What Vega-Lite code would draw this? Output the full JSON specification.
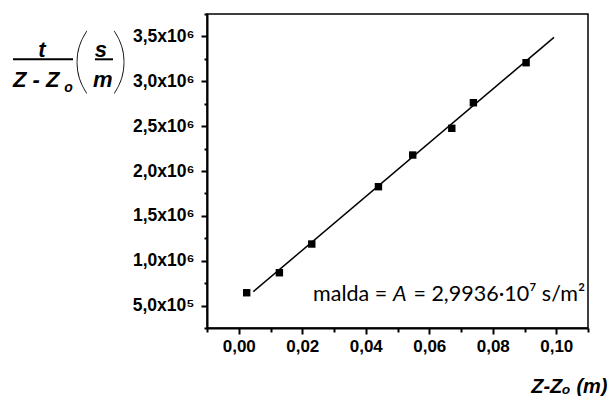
{
  "$schema": "https://vega.github.io/schema/vega-lite/v6.json",
  "width": 381,
  "height": 314,
  "autosize": {"type": "none"},
  "padding": {"left": 207, "top": 14, "right": 23, "bottom": 68},
  "background": "white",
  "config": {
    "view": {"stroke": "black", "strokeWidth": 1.5},
    "font": "Liberation Sans",
    "locale": {"number": {"decimal": ",", "thousands": ".", "grouping": [3], "currency": ["", ""]}}
  },
  "datasets": {
    "pts": [
      {"z": 0.0025, "r": 643000},
      {"z": 0.0128, "r": 866000},
      {"z": 0.0230, "r": 1186000},
      {"z": 0.0440, "r": 1825000},
      {"z": 0.0548, "r": 2178000},
      {"z": 0.0671, "r": 2476000},
      {"z": 0.0739, "r": 2761000},
      {"z": 0.0905, "r": 3207000}
    ],
    "fit": [
      {"z": 0.0046, "r": 655200},
      {"z": 0.0993, "r": 3490200}
    ]
  },
  "resolve": {"axis": {"x": "independent", "y": "independent"}},
  "layer": [
    {
      "data": {"name": "fit"},
      "mark": {"type": "line", "color": "black", "strokeWidth": 1.5},
      "encoding": {
        "x": {
          "field": "z", "type": "quantitative",
          "scale": {"domain": [-0.01, 0.11], "nice": false, "zero": false},
          "axis": {
            "orient": "bottom",
            "values": [0, 0.02, 0.04, 0.06, 0.08, 0.1],
            "format": ".2f",
            "tickSize": 6,
            "tickWidth": 2, "tickColor": "black",
            "domainWidth": 2, "domainColor": "black",
            "grid": false,
            "labelFont": "Liberation Sans", "labelFontWeight": "bold", "labelFontSize": 17,
            "labelColor": "black", "labelPadding": 4, "labelFlush": false, "labelOverlap": false,
            "title": "Z-Zₒ (m)",
            "titleFont": "Liberation Sans", "titleFontWeight": "bold", "titleFontStyle": "italic",
            "titleFontSize": 20, "titleColor": "black",
            "titleAnchor": "end", "titleAlign": "right", "titleBaseline": "alphabetic",
            "titleX": 400, "titleY": 64
          }
        },
        "y": {
          "field": "r", "type": "quantitative",
          "scale": {"domain": [250000, 3750000], "nice": false, "zero": false},
          "axis": {
            "orient": "left",
            "values": [500000, 1000000, 1500000, 2000000, 2500000, 3000000, 3500000],
            "labelExpr": "datum.value < 1000000 ? '5,0x10⁵' : format(datum.value/1000000, '.1f') + 'x10⁶'",
            "tickSize": 6,
            "tickWidth": 2, "tickColor": "black",
            "domainWidth": 2, "domainColor": "black",
            "grid": false,
            "labelFont": "Liberation Sans", "labelFontWeight": "bold", "labelFontSize": 17.5,
            "labelColor": "black", "labelPadding": 7, "labelFlush": false, "labelOverlap": false,
            "title": null
          }
        }
      }
    },
    {
      "data": {"name": "pts"},
      "mark": {"type": "point", "shape": "square", "filled": true, "color": "black", "opacity": 1, "size": 55},
      "encoding": {
        "x": {"field": "z", "type": "quantitative",
          "axis": {"orient": "bottom", "values": [-0.01, 0.01, 0.03, 0.05, 0.07, 0.09, 0.11], "labels": false, "domain": false, "grid": false, "tickSize": 4, "tickWidth": 2, "tickColor": "black", "title": null}},
        "y": {"field": "r", "type": "quantitative",
          "axis": {"orient": "left", "values": [250000, 750000, 1250000, 1750000, 2250000, 2750000, 3250000, 3750000], "labels": false, "domain": false, "grid": false, "tickSize": 3, "tickWidth": 2, "tickColor": "black", "title": null}}
      }
    },
    {
      "data": {"values": [{}]},
      "mark": {"type": "text", "text": "malda =", "font": "Lato", "fontSize": 21.5, "align": "left", "baseline": "alphabetic", "color": "black"},
      "encoding": {
        "x": {"datum": 0.0234, "type": "quantitative", "axis": null},
        "y": {"datum": 551000, "type": "quantitative", "axis": null}
      }
    },
    {
      "data": {"values": [{}]},
      "mark": {"type": "text", "text": "A", "font": "Lato", "fontSize": 21.5, "fontStyle": "italic", "align": "left", "baseline": "alphabetic", "color": "black"},
      "encoding": {
        "x": {"datum": 0.0486, "type": "quantitative", "axis": null},
        "y": {"datum": 551000, "type": "quantitative", "axis": null}
      }
    },
    {
      "data": {"values": [{}]},
      "mark": {"type": "text", "text": "= 2,9936·10⁷ s/m²", "font": "Lato", "fontSize": 21.5, "align": "right", "baseline": "alphabetic", "color": "black"},
      "encoding": {
        "x": {"datum": 0.1091, "type": "quantitative", "axis": null},
        "y": {"datum": 551000, "type": "quantitative", "axis": null}
      }
    },
    {
      "data": {"values": [{}]},
      "mark": {"type": "text", "text": "t", "font": "Liberation Sans", "fontSize": 22, "fontWeight": "bold", "fontStyle": "italic", "align": "center", "baseline": "alphabetic", "color": "black"},
      "encoding": {
        "x": {"datum": -0.0620, "type": "quantitative", "axis": null},
        "y": {"datum": 3270700, "type": "quantitative", "axis": null}
      }
    },
    {
      "data": {"values": [{}]},
      "mark": {"type": "rule", "color": "black", "strokeWidth": 2},
      "encoding": {
        "x": {"datum": -0.0711, "type": "quantitative", "axis": null},
        "x2": {"datum": -0.0522},
        "y": {"datum": 3245000, "type": "quantitative", "axis": null}
      }
    },
    {
      "data": {"values": [{}]},
      "mark": {"type": "text", "text": "Z - Z", "font": "Liberation Sans", "fontSize": 22, "fontWeight": "bold", "fontStyle": "italic", "align": "left", "baseline": "alphabetic", "color": "black"},
      "encoding": {
        "x": {"datum": -0.0711, "type": "quantitative", "axis": null},
        "y": {"datum": 2936300, "type": "quantitative", "axis": null}
      }
    },
    {
      "data": {"values": [{}]},
      "mark": {"type": "text", "text": "o", "font": "Liberation Sans", "fontSize": 14, "fontWeight": "bold", "fontStyle": "italic", "align": "left", "baseline": "alphabetic", "color": "black"},
      "encoding": {
        "x": {"datum": -0.0550, "type": "quantitative", "axis": null},
        "y": {"datum": 2880600, "type": "quantitative", "axis": null}
      }
    },
    {
      "data": {"values": [{}]},
      "mark": {"type": "text", "text": "(", "font": "Lato", "fontSize": 72, "fontWeight": 200, "align": "center", "baseline": "middle", "color": "black"},
      "encoding": {
        "x": {"datum": -0.0497, "type": "quantitative", "axis": null},
        "y": {"datum": 3200000, "type": "quantitative", "axis": null}
      }
    },
    {
      "data": {"values": [{}]},
      "mark": {"type": "text", "text": "s", "font": "Liberation Sans", "fontSize": 22, "fontWeight": "bold", "fontStyle": "italic", "align": "center", "baseline": "alphabetic", "color": "black"},
      "encoding": {
        "x": {"datum": -0.0434, "type": "quantitative", "axis": null},
        "y": {"datum": 3270700, "type": "quantitative", "axis": null}
      }
    },
    {
      "data": {"values": [{}]},
      "mark": {"type": "rule", "color": "black", "strokeWidth": 2},
      "encoding": {
        "x": {"datum": -0.0453, "type": "quantitative", "axis": null},
        "x2": {"datum": -0.0396},
        "y": {"datum": 3245000, "type": "quantitative", "axis": null}
      }
    },
    {
      "data": {"values": [{}]},
      "mark": {"type": "text", "text": "m", "font": "Liberation Sans", "fontSize": 22, "fontWeight": "bold", "fontStyle": "italic", "align": "center", "baseline": "alphabetic", "color": "black"},
      "encoding": {
        "x": {"datum": -0.0428, "type": "quantitative", "axis": null},
        "y": {"datum": 2936300, "type": "quantitative", "axis": null}
      }
    },
    {
      "data": {"values": [{}]},
      "mark": {"type": "text", "text": ")", "font": "Lato", "fontSize": 72, "fontWeight": 200, "align": "center", "baseline": "middle", "color": "black"},
      "encoding": {
        "x": {"datum": -0.0374, "type": "quantitative", "axis": null},
        "y": {"datum": 3200000, "type": "quantitative", "axis": null}
      }
    }
  ]
}
